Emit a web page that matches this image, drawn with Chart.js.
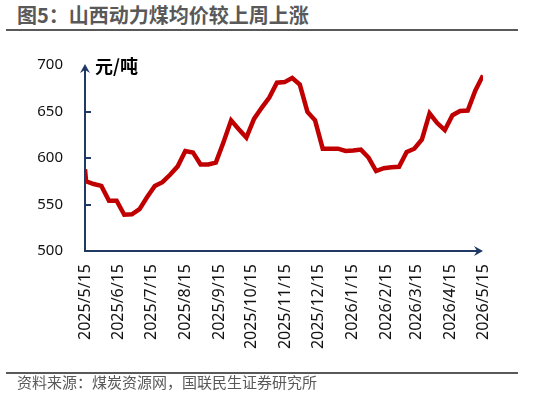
<!DOCTYPE html>
<html>
<head>
<meta charset="utf-8">
<script src="https://cdn.jsdelivr.net/npm/chart.js@4/dist/chart.umd.min.js"></script>
<style>
    body { margin: 0; background: #fff; width: 534px; height: 401px; overflow: hidden; position: relative; font-family: "Noto Sans CJK SC", sans-serif; }
    #title { position: absolute; left: 17px; top: 3px; font-size: 20px; font-weight: bold; color: #595959; line-height: 24px; white-space: nowrap; }
    .rule { position: absolute; left: 6px; width: 512px; height: 2px; background: #595959; }
    #src { position: absolute; left: 17px; top: 372px; font-size: 15px; line-height: 20px; color: #595959; white-space: nowrap; }
    #chart { position: absolute; left: 0; top: 0; }
</style>
</head>
<body>
<div id="title">图5：山西动力煤均价较上周上涨</div>
<div class="rule" style="top:29px"></div>
<canvas id="chart" width="534" height="401"></canvas>
<div class="rule" style="top:372px"></div>
<div id="src">资料来源：煤炭资源网，国联民生证券研究所</div>

<script>
// 数据：首个点 2025/5/15，之后每周五
const firstDate = '2025/5/15';
const weeklyStart = '2025/5/16';
const prices = [588, 575, 572, 570, 554, 554, 539, 539.5, 545, 558, 570, 574, 582, 591, 607.5, 606,
    593, 593, 595, 617, 640.5, 631, 622, 642, 654, 665, 681, 681.6, 686, 679, 649.5, 640.5,
    610, 610, 610, 607.6, 608, 609, 600.5, 586, 589, 590, 590.5, 606.5, 610, 620, 648, 637.6,
    630, 646, 650.5, 651, 672.7, 688.8];
const tickLabels = ['2025/5/15', '2025/6/15', '2025/7/15', '2025/8/15', '2025/9/15', '2025/10/15',
    '2025/11/15', '2025/12/15', '2026/1/15', '2026/2/15', '2026/3/15', '2026/4/15', '2026/5/15'];
const yTicks = [500, 550, 600, 650, 700];

const AXIS = '#1F3864';
const NUM_FONT = '"Noto Sans", "Noto Sans CJK SC", sans-serif';

function dayOf(s) {
    const [y, m, d] = s.split('/').map(Number);
    return (Date.UTC(y, m - 1, d) - Date.UTC(2025, 4, 15)) / 86400000;
}

const dates = [firstDate];
for (let k = 0; k < prices.length - 1; k++) {
    const [y, m, d] = weeklyStart.split('/').map(Number);
    const t = new Date(Date.UTC(y, m - 1, d + 7 * k));
    dates.push(t.getUTCFullYear() + '/' + (t.getUTCMonth() + 1) + '/' + t.getUTCDate());
}
const points = dates.map((d, i) => ({ x: dayOf(d), y: prices[i] }));

const axisArrows = {
    id: 'axisArrows',
    beforeDatasetsDraw(chart) {
        const { ctx, scales: { x, y } } = chart;
        const x0 = x.getPixelForValue(0), x1 = x.getPixelForValue(dayOf('2026/5/15'));
        const y0 = y.getPixelForValue(500), y1 = y.getPixelForValue(700);
        ctx.save();
        ctx.strokeStyle = AXIS;
        ctx.fillStyle = AXIS;
        ctx.lineWidth = 2;
        ctx.beginPath();
        ctx.moveTo(x0, y1 + 2);
        ctx.lineTo(x0, y0);
        ctx.lineTo(x1 - 3, y0);
        // 纵轴内刻度
        yTicks.slice(1, -1).forEach(v => {
            const py = Math.round(y.getPixelForValue(v));
            ctx.moveTo(x0, py);
            ctx.lineTo(x0 + 6, py);
        });
        ctx.stroke();
        // 箭头
        ctx.beginPath();
        ctx.moveTo(x1, y0);
        ctx.lineTo(x1 - 9, y0 - 5);
        ctx.lineTo(x1 - 6, y0);
        ctx.lineTo(x1 - 9, y0 + 5);
        ctx.closePath();
        ctx.fill();
        ctx.beginPath();
        ctx.moveTo(x0, y1 - 1);
        ctx.lineTo(x0 - 5, y1 + 8);
        ctx.lineTo(x0, y1 + 5);
        ctx.lineTo(x0 + 5, y1 + 8);
        ctx.closePath();
        ctx.fill();
        // 单位
        ctx.fillStyle = '#000';
        ctx.font = 'bold 18px "Noto Sans CJK SC", sans-serif';
        ctx.textBaseline = 'middle';
        ctx.fillText('元/吨', x0 + 10, y1 + 1);
        ctx.restore();
    }
};

new Chart(document.getElementById('chart'), {
    type: 'line',
    data: {
        datasets: [{
            data: points,
            borderColor: '#C00000',
            borderWidth: 4.5,
            pointRadius: 0,
            fill: false,
            tension: 0
        }]
    },
    options: {
        responsive: false,
        animation: false,
        layout: { padding: { top: 65, right: 51, left: 0, bottom: 0 } },
        plugins: { legend: { display: false }, tooltip: { enabled: false } },
        scales: {
            x: {
                type: 'linear',
                min: 0,
                max: dayOf('2026/5/15'),
                grid: { display: false, drawTicks: false },
                border: { display: false },
                afterBuildTicks: s => { s.ticks = tickLabels.map(t => ({ value: dayOf(t) })); },
                afterFit: s => { s.height = 150; },
                ticks: {
                    autoSkip: false,
                    minRotation: 90,
                    maxRotation: 90,
                    padding: 13,
                    color: '#111',
                    font: { family: NUM_FONT, size: 16 },
                    callback: (v, i) => tickLabels[i]
                }
            },
            y: {
                min: 500,
                max: 700,
                grid: { display: false, drawTicks: false },
                border: { display: false },
                afterBuildTicks: s => { s.ticks = yTicks.map(v => ({ value: v })); },
                afterFit: s => { s.width = 85; },
                ticks: {
                    padding: 22,
                    color: '#111',
                    font: { family: NUM_FONT, size: 15 }
                }
            }
        }
    },
    plugins: [axisArrows]
});
</script>
</body>
</html>
